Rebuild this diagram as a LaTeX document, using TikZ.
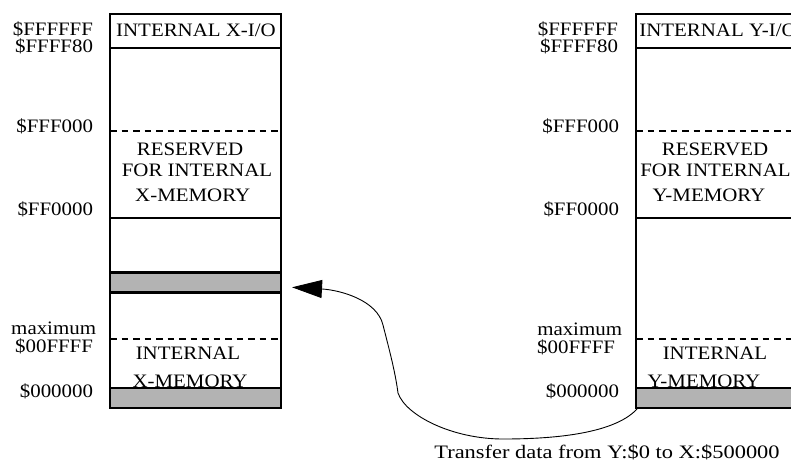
\documentclass[tikz,border=0pt]{standalone}
\usepackage{fontspec}
\setmainfont{Liberation Serif}[FakeStretch=1.1]
\newfontfamily\capfont{Liberation Serif}[FakeStretch=1.18]
\usetikzlibrary{arrows.meta,calc}
\definecolor{bandgray}{RGB}{179,179,179}

\begin{document}
\begin{tikzpicture}[x=1pt,y=-1pt,
  every node/.style={font=\fontsize{19}{22}\selectfont, inner sep=0pt, outer sep=0pt},
  frame/.style={line width=2.6pt},
  sep/.style={line width=2.4pt},
  dashsep/.style={line width=1.7pt, dash pattern=on 6.5pt off 5pt},
  band/.style={draw, line width=2.4pt, fill=bandgray, minimum width=171pt,
               minimum height=20pt, anchor=north west},
  addr/.style={anchor=base east},
  lbl/.style={anchor=base},
  flow/.style={line width=0.9pt, -{Triangle[length=30pt,width=18pt]}},
]
\useasboundingbox (0,0) rectangle (791,463);
\clip (0,0) rectangle (791,463);

% ---------------- X memory map ----------------
\node[addr] (xa1) at (93,35)    {\$FFFFFF};
\node[addr] (xa2) at (93,52.5)  {\$FFFF80};
\node[addr] (xa3) at (93,132)   {\$FFF000};
\node[addr] (xa4) at (93,215)   {\$FF0000};
\node[addr] (xa5) at (96,334.5) {maximum};
\node[addr] (xa6) at (93,352.5) {\$00FFFF};
\node[addr] (xa7) at (93,397.5) {\$000000};

\node[lbl] (xio)  at (196,36.7)  {INTERNAL X-I/O};
\node[lbl] (xr1)  at (190,155.7) {RESERVED};
\node[lbl] (xr2)  at (197,176.7) {FOR INTERNAL};
\node[lbl] (xr3)  at (192.7,201.7) {X-MEMORY};
\node[lbl] (xm1)  at (188,359.3) {INTERNAL};
\node[lbl] (xm2)  at (190,387.3) {X-MEMORY};

\node[band] (xband) at (110,272.3) {};
\node[band] (xbase) at (110,388) {};
\draw[sep] (110,47.7) -- (281,47.7);
\draw[dashsep] (110,130.7) -- (281,130.7);
\draw[sep] (110,217.7) -- (281,217.7);
\draw[dashsep] (110,339.3) -- (281,339.3);
\draw[frame] (110,14) rectangle (281,408);

% ---------------- Y memory map ----------------
\node[addr] (ya1) at (618,35)    {\$FFFFFF};
\node[addr] (ya2) at (618,52.5)  {\$FFFF80};
\node[addr] (ya3) at (619,132)   {\$FFF000};
\node[addr] (ya4) at (619,215)   {\$FF0000};
\node[addr] (ya5) at (622,335)   {maximum};
\node[addr] (ya6) at (615,353)   {\$00FFFF};
\node[addr] (ya7) at (619,397.5) {\$000000};

\node[lbl] (yio)  at (718,36.7)  {INTERNAL Y-I/O};
\node[lbl] (yr1)  at (715,155.7) {RESERVED};
\node[lbl] (yr2)  at (715.5,176.7) {FOR INTERNAL};
\node[lbl] (yr3)  at (709,201.7) {Y-MEMORY};
\node[lbl] (ym1)  at (715,359.3) {INTERNAL};
\node[lbl] (ym2)  at (704,387.3) {Y-MEMORY};

\node[band] (ybase) at (636,388) {};
\draw[sep] (636,47.7) -- (807,47.7);
\draw[dashsep] (636,130.7) -- (807,130.7);
\draw[sep] (636,217.7) -- (807,217.7);
\draw[dashsep] (636,339.3) -- (807,339.3);
\draw[frame] (636,14) rectangle (807,408);

% ---------------- transfer ----------------
\coordinate (tip) at ($(xband.east)+(11,5)$);
\draw[flow] ($(ybase.south west)+(1,1)$)
  .. controls (613,435) and (548,439) .. (503,439)
  .. controls (453,439) and (406,416) .. (398,393)
  .. controls (395,370) and (388,345) .. (383,325)
  .. controls (377,300) and (340,290) .. (tip);

\node[anchor=base, font=\capfont\fontsize{19}{22}\selectfont] (cap) at (607,458)
  {Transfer data from Y:\$0 to X:\$500000};
\end{tikzpicture}
\end{document}
